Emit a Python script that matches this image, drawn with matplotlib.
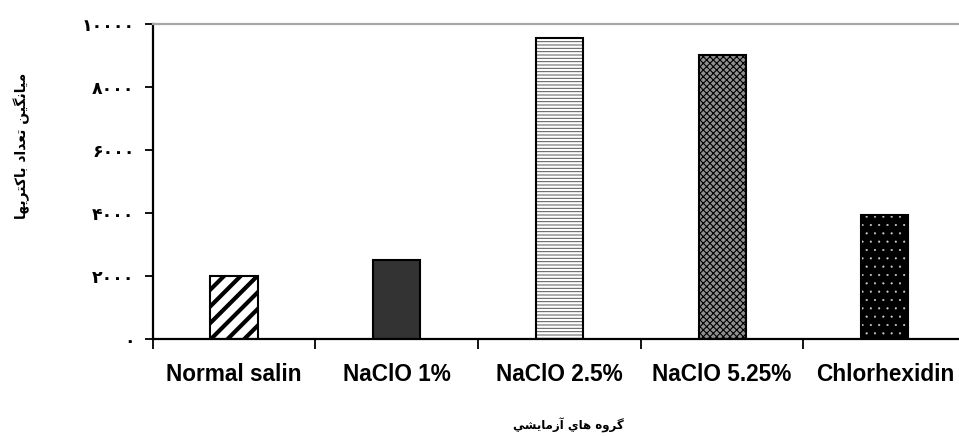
import matplotlib
matplotlib.use('Agg')

import numpy as np
import matplotlib.pyplot as plt

# data
groups = ['Normal salin', 'NaClO 1%', 'NaClO 2.5%', 'NaClO 5.25%', 'Chlorhexidin']
means = [2000, 2500, 9530, 9000, 3940]
yticks = [0, 2000, 4000, 6000, 8000, 10000]

# persian labels, written as presentation forms in visual order
# "گروه های آزمایشی"
xlabel_forms = [0xFB94, 0xFEAE, 0xFEED, 0xFEE9, 0x20,
                0xFEEB, 0xFE8E, 0xFEF1, 0x20,
                0xFE81, 0xFEAF, 0xFEE3, 0xFE8E, 0xFEF3, 0xFEB8, 0xFEF2]
# "میانگین تعداد باکتریها"
ylabel_forms = [0xFEE3, 0xFEF4, 0xFE8E, 0xFEE7, 0xFB95, 0xFEF4, 0xFEE6, 0x20,
                0xFE97, 0xFECC, 0xFEAA, 0xFE8D, 0xFEA9, 0x20,
                0xFE91, 0xFE8E, 0xFB90, 0xFE98, 0xFEAE, 0xFEF3, 0xFEEC, 0xFE8E]


def visual(forms):
    """joins presentation forms and reverses them for left to right drawing"""
    return ''.join(chr(c) for c in forms)[::-1]


def fa_digits(n):
    """returns n written with persian digits"""
    return ''.join(chr(0x06F0 + int(d)) for d in str(int(n)))


# fill, hatch, hatch colour, hatch line width for each bar
bar_styles = [('white', '//', 'black', 3.0),
              ('#333333', '', 'black', 1.0),
              ('white', '-----', '#555555', 0.7),
              ('#909090', 'xxxxx', 'black', 0.8),
              ('black', '..', '#d0d0d0', 0.3)]

fig = plt.figure(figsize=(9.59, 4.36), dpi=100)
ax = fig.add_axes([0.1592, 0.2218, 0.8483, 0.7243])

x = np.arange(len(groups))
for i in range(len(groups)):
    face, hatch, hcol, hlw = bar_styles[i]
    with plt.rc_context({'hatch.linewidth': hlw}):
        bars = ax.bar(x[i], means[i], width=0.29, color=face,
                      edgecolor=hcol, hatch=hatch, linewidth=0, zorder=2)
    for p in bars:
        if hasattr(p, 'set_hatch_linewidth'):
            p.set_hatch_linewidth(hlw)
# black outlines on top
ax.bar(x, means, width=0.29, fill=False, edgecolor='black',
       linewidth=1.5, zorder=3)

ax.set_xlim(-0.5, len(groups) - 0.5)
ax.set_ylim(0, 10000)

ax.spines['right'].set_visible(False)
ax.spines['left'].set_linewidth(1.6)
ax.spines['bottom'].set_linewidth(1.6)
ax.spines['top'].set_color('#a6a6a6')
ax.spines['top'].set_linewidth(1.6)

ax.set_yticks(yticks)
ax.set_yticklabels([fa_digits(v) for v in yticks],
                   family='DejaVu Sans', fontweight='bold', fontsize=12.5)
ax.tick_params(axis='y', direction='out', length=6, width=1.3, pad=7)

ax.set_xticks(x)
ax.set_xticklabels(groups, family='Liberation Sans', fontweight='bold',
                   fontsize=16.3)
ax.tick_params(axis='x', which='major', length=0, pad=17)
ax.set_xticks(np.arange(-0.5, len(groups), 1), minor=True)
ax.tick_params(axis='x', which='minor', direction='out', length=7, width=1.3)

fig.text(22 / 959, 1 - 146 / 436, visual(ylabel_forms), rotation=90,
         ha='center', va='center', family='DejaVu Sans', fontweight='bold',
         fontsize=10)
fig.text(568 / 959, 1 - 425 / 436, visual(xlabel_forms), ha='center',
         va='center', family='DejaVu Sans', fontweight='bold', fontsize=8.5)

fig.savefig('out.png', dpi=100)
